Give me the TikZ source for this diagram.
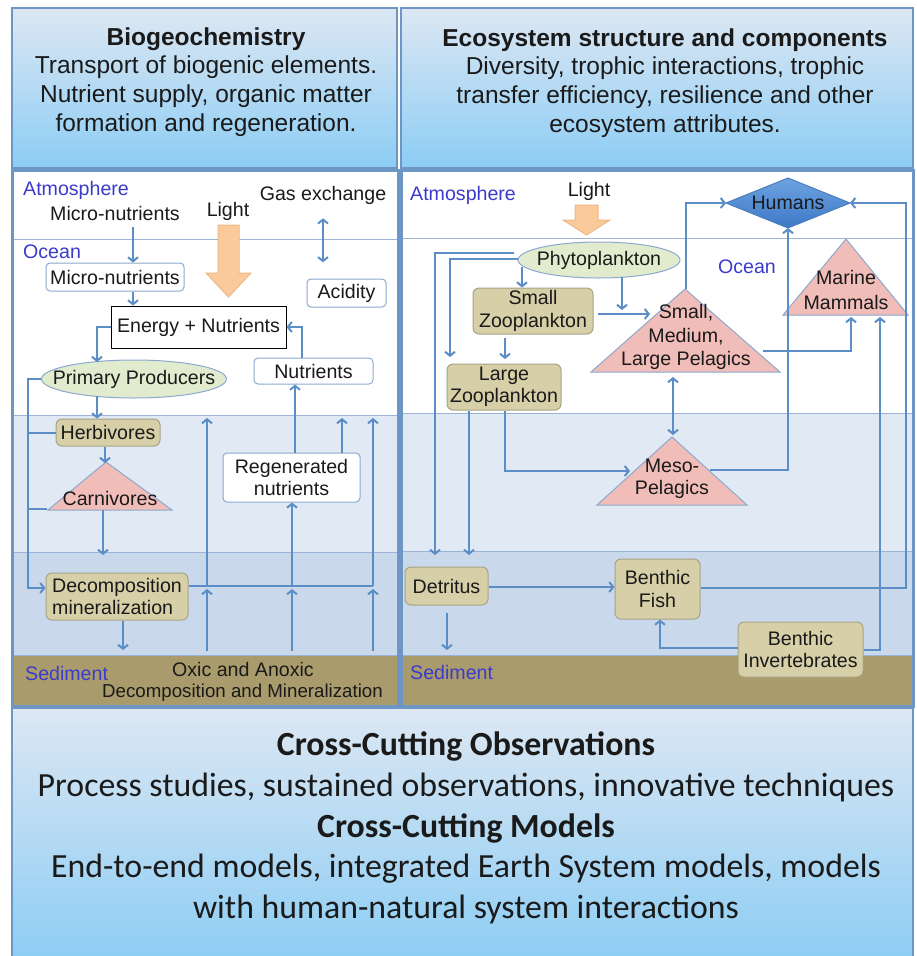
\documentclass[tikz,border=0pt]{standalone}
\usepackage{fontspec}
\setmainfont{Liberation Sans}
\newfontfamily\calib{Carlito}
\usetikzlibrary{arrows.meta,shapes.geometric,calc}
\definecolor{arrowblue}{HTML}{5B8DC6}
\definecolor{panelborder}{HTML}{6E96C4}
\definecolor{hdrtop}{HTML}{DDE7F3}
\definecolor{hdrbot}{HTML}{8CCDF4}
\definecolor{bandone}{HTML}{E1E9F4}
\definecolor{bandtwo}{HTML}{C9D9EB}
\definecolor{bandline}{HTML}{9AB3D6}
\definecolor{sedfill}{HTML}{A99B6B}
\definecolor{tanfill}{HTML}{D7CFA7}
\definecolor{tanedge}{HTML}{A7A486}
\definecolor{pinkfill}{HTML}{F1BDB9}
\definecolor{shapeedge}{HTML}{8BA9CF}
\definecolor{greenfill}{HTML}{E1ECCF}
\definecolor{lightfill}{HTML}{FBCA9A}
\definecolor{lightedge}{HTML}{EDB887}
\definecolor{labelblue}{HTML}{3B3BCB}
\definecolor{humanstop}{HTML}{6EA3E2}
\definecolor{humansbot}{HTML}{3D78C6}
\definecolor{humansedge}{HTML}{4A7DBE}
\definecolor{textdark}{HTML}{1A1A1A}
\begin{document}
\begin{tikzpicture}[x=1pt,y=-1pt,
  font=\fontsize{19.6}{22.5}\selectfont, text=textdark,
  lbl/.style={inner sep=0pt, align=center},
  bluelbl/.style={text=labelblue, inner sep=0pt, anchor=west},
  wbox/.style={draw=shapeedge, fill=white, rounded corners=4pt, line width=1pt, inner sep=0pt, align=center},
  tbox/.style={draw=tanedge, fill=tanfill, rounded corners=6pt, line width=1pt, inner sep=0pt, align=center},
  tri/.style={draw=shapeedge, fill=pinkfill, line width=1pt},
  ell/.style={ellipse, draw=shapeedge, fill=greenfill, line width=1pt, inner sep=0pt},
  ln/.style={draw=arrowblue, line width=2pt},
  arr/.style={draw=arrowblue, line width=2pt, -{Straight Barb[length=4pt,width=10pt]}},
  dbl/.style={draw=arrowblue, line width=2pt, {Straight Barb[length=4pt,width=10pt]}-{Straight Barb[length=4pt,width=10pt]}},
  hdrbox/.style={draw=panelborder, line width=2.5pt, top color=hdrtop, bottom color=hdrbot},
  hdrtext/.style={inner sep=0pt, align=center, font=\fontsize{24.5}{28.8}\selectfont},
  lightarrow/.style={fill=lightfill, draw=lightedge, line width=1pt}
]
\useasboundingbox (0,0) rectangle (917,956);
\fill[white] (0,0) rectangle (917,956);

% ---------------- headers ----------------
\path[hdrbox] (12,8) rectangle (397,168);
\path[hdrbox] (401,8) rectangle (913,168);
\node[hdrtext] (hL) at (206,82) {\textbf{Biogeochemistry}\\Transport of biogenic elements.\\Nutrient supply, organic matter\\formation and regeneration.};
\node[hdrtext] (hR) at (665,83) {\textbf{Ecosystem structure and components}\\Diversity, trophic interactions, trophic\\transfer efficiency, resilience and other\\ecosystem attributes.};

% ---------------- panel backgrounds ----------------
\fill[white] (12,170) rectangle (398,415);
\fill[bandone] (12,415) rectangle (398,552);
\fill[bandtwo] (12,552) rectangle (398,655);
\fill[sedfill] (12,655) rectangle (398,706);
\fill[white] (401,170) rectangle (913,413);
\fill[bandone] (401,413) rectangle (913,551);
\fill[bandtwo] (401,551) rectangle (913,655);
\fill[sedfill] (401,655) rectangle (913,706);
\draw[bandline, line width=1pt] (12,239) -- (398,239) (12,415) -- (398,415) (12,552) -- (398,552) (12,655) -- (398,655);
\draw[bandline, line width=1pt] (401,238) -- (913,238) (401,413) -- (913,413) (401,551) -- (913,551) (401,655) -- (913,655);
\draw[panelborder, line width=3pt] (12,170) rectangle (398,706);
\draw[panelborder, line width=3pt] (401,170) rectangle (913,706);

% ---------------- bottom box ----------------
\path[draw=panelborder, line width=2.5pt, top color=hdrtop, bottom color=hdrbot] (12,708) rectangle (913,962);
\node[inner sep=0pt, align=center, font=\calib\fontsize{33.8}{40.8}\selectfont] (bot) at (466,828)
  {\textbf{Cross-Cutting Observations}\\Process studies, sustained observations, innovative techniques\\\textbf{Cross-Cutting Models}\\End-to-end models, integrated Earth System models, models\\with human-natural system interactions};

% ================= LEFT PANEL =================
\node[bluelbl] (atmL) at (23,190) {Atmosphere};
\node[bluelbl] (oceanL) at (23,252) {Ocean};
\node[lbl] (mnA) at (115,213) {Micro-nutrients};
\node[lbl] (lightL) at (228,211) {Light};
\node[lbl] (gasL) at (323,195) {Gas exchange};
\path[lightarrow] (218,225) -- (239,225) -- (239,273) -- (251,273) -- (228.5,297) -- (206,273) -- (218,273) -- cycle;

\node[wbox, minimum width=138pt, minimum height=28pt] (mnBox) at (115,277) {Micro-nutrients};
\node[wbox, minimum width=79pt, minimum height=28pt] (acid) at (346.5,293) {Acidity};
\node[draw=black, fill=white, line width=1pt, inner sep=0pt, minimum width=175pt, minimum height=42pt] (enBox) at (198.5,327) {Energy + Nutrients};
\node[wbox, minimum width=119pt, minimum height=26pt] (nutBox) at (313.5,371) {Nutrients};
\node[ell, minimum width=185pt, minimum height=38pt] (pp) at (134,379) {};
\node[lbl] (ppT) at (pp.center) {Primary Producers};
\node[tbox, minimum width=104pt, minimum height=27pt] (herb) at (108,432.5) {Herbivores};
\coordinate (carnA) at (106,462);
\coordinate (carnL) at (48,510);
\coordinate (carnR) at (172,510);
\path[tri] (carnA) -- (carnR) -- (carnL) -- cycle;
\node[lbl] (carnT) at (110,498) {Carnivores};
\node[wbox, minimum width=137pt, minimum height=49pt] (regen) at (291.5,477.5) {Regenerated\\nutrients};
\node[tbox, minimum width=142pt, minimum height=47pt, align=left] (decomp) at (117,596.5) {Decomposition\\mineralization};
\node[bluelbl] (sedL) at (25,673) {Sediment};
\node[lbl] (oxic) at (243,669) {Oxic and Anoxic};
\node[lbl, font=\fontsize{18.7}{22}\selectfont] (decMin) at (242.5,693) {Decomposition and Mineralization};

% left connectors
\draw[arr] (mnA.south -| 133,0) ++(0,7) -- (mnBox.north -| 133,0);
\draw[arr] (mnBox.south -| 133,0) -- (enBox.north -| 133,0);
\draw[dbl] (gasL.south) ++(0,14) -- ++(0,44);
\draw[arr] (enBox.west) -| (97,362);
\draw[arr] (nutBox.north -| 302,0) |- (enBox.east);
\draw[arr] (97,396) -- (herb.north -| 97,0);
\draw[arr] (pp.west) -| (28,588) -- (decomp.west |- 0,588);
\draw[ln] (herb.west) -- (herb.west -| 28,0);
\draw[ln] (carnL) ++(-1,-1) -- (28,509);
\draw[arr] (herb.south -| 105,0) -- (105,463);
\draw[arr] (103,510) -- (103,555);
\draw[arr] (decomp.south -| 123,0) -- (123,650);
\draw[ln] (decomp.east |- 0,586) -- (373,586);
\foreach \xx in {207,292,373} {\draw[arr] (\xx,651) -- (\xx,589);}
\draw[arr] (207,586) -- (207,418);
\draw[arr] (292,586) -- (regen.south -| 292,0);
\draw[arr] (373,586) -- (373,418);
\draw[arr] (regen.north -| 342,0) -- (342,418);
\draw[arr] (regen.north -| 295,0) -- (nutBox.south -| 295,0);

% ================= RIGHT PANEL =================
\node[bluelbl] (atmR) at (410,195) {Atmosphere};
\node[lbl] (lightR) at (589,191) {Light};
\path[lightarrow] (575,205) -- (598,205) -- (598,220) -- (610,220) -- (586.5,235) -- (563,220) -- (575,220) -- cycle;
\coordinate (humW) at (726,203);
\coordinate (humN) at (788,178);
\coordinate (humE) at (850,203);
\coordinate (humS) at (788,228);
\path[draw=humansedge, line width=1pt, top color=humanstop, bottom color=humansbot] (humW) -- (humN) -- (humE) -- (humS) -- cycle;
\node[lbl] (humans) at (788,203) {Humans};
\node[ell, minimum width=162pt, minimum height=36pt] (phyto) at (599,260) {};
\node[lbl] (phytoT) at (phyto.center) {Phytoplankton};
\node[lbl, text=labelblue] (oceanR) at (747,267) {Ocean};
\coordinate (mmA) at (846,239);
\coordinate (mmL) at (783,315);
\coordinate (mmR) at (908,315);
\path[tri] (mmA) -- (mmR) -- (mmL) -- cycle;
\node[lbl, font=\fontsize{19.6}{24.5}\selectfont] (mmT) at (846,290) {Marine\\Mammals};
\node[tbox, minimum width=120pt, minimum height=46pt] (sz) at (533,311) {Small\\Zooplankton};
\node[tbox, minimum width=114pt, minimum height=46pt] (lz) at (504,387) {Large\\Zooplankton};
\coordinate (pelA) at (685,289);
\coordinate (pelL) at (591,372);
\coordinate (pelR) at (780,372);
\path[tri] (pelA) -- (pelR) -- (pelL) -- cycle;
\node[lbl, font=\fontsize{19.6}{23.5}\selectfont] (pelT) at (686,337) {Small,\\Medium,\\Large Pelagics};
\coordinate (mesoA) at (672,437);
\coordinate (mesoL) at (597,505);
\coordinate (mesoR) at (747,505);
\path[tri] (mesoA) -- (mesoR) -- (mesoL) -- cycle;
\node[lbl, font=\fontsize{19.6}{22}\selectfont] (mesoT) at (672,479) {Meso-\\Pelagics};
\node[tbox, minimum width=83pt, minimum height=38pt] (det) at (446.5,586) {Detritus};
\node[tbox, minimum width=85pt, minimum height=60pt] (bf) at (657.5,589) {Benthic\\Fish};
\node[tbox, minimum width=125pt, minimum height=55pt] (bi) at (800.5,649.5) {Benthic\\Invertebrates};
\node[bluelbl] (sedR) at (410,672) {Sediment};

% right connectors
\draw[arr] (phyto.west |- 0,253) ++(-4,0) -| (435,555);
\draw[arr] (phyto.west |- 0,259) -| (450,357);
\draw[arr] (522,267) -- (sz.north -| 522,0);
\draw[arr] (phyto.south -| 622,0) ++(0,-2) -- (622,310);
\draw[arr] (598,314) -- (650,314);
\draw[arr] (505,338) -- (505,359);
\draw[arr] (pelA -| 686,0) |- (humW);
\draw[arr] (763,351) -| (851,317);
\draw[dbl] (673,377) -- (673,435);
\draw[arr] (710,470) -| (humS);
\draw[arr] (bf.east |- 0,588) -| (906,203) -- (humE);
\draw[arr] (bi.east |- 0,650) -| (880,317);
\draw[arr] (lz.south -| 505,0) |- (630,471);
\draw[arr] (lz.south -| 469,0) -- (469,555);
\draw[arr] (det.east |- 0,587) -- (bf.west |- 0,587);
\draw[arr] (447,613) -- (447,650);
\draw[arr] (bi.west |- 0,648) -| (bf.south -| 660,0);
\end{tikzpicture}
\end{document}
